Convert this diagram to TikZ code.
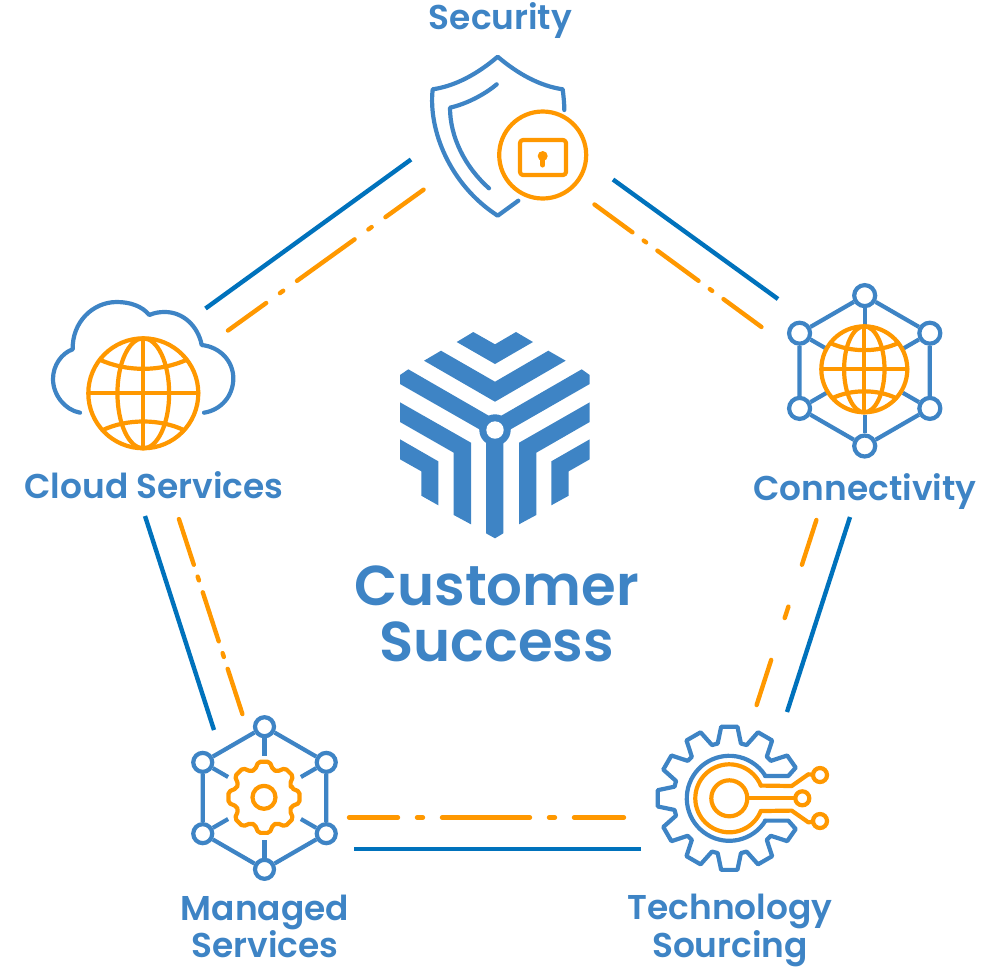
\documentclass[tikz,border=0pt]{standalone}
\usepackage{fontspec}
\setmainfont{Poppins SemiBold}
\usepackage{tikz}
\definecolor{iconblue}{HTML}{3E84C5}
\definecolor{linkblue}{HTML}{0072BC}
\definecolor{iconorange}{HTML}{FF9800}
\tikzset{
	iconline/.style={draw=iconblue,line width=4.2pt,line cap=round,line join=round},
	orangeline/.style={draw=iconorange,line width=4.2pt,line cap=round,line join=round},
	bluelink/.style={draw=linkblue,line width=4.4pt},
	orangelink/.style={draw=iconorange,line width=4.4pt,line cap=round},
	hexdot/.style={circle,draw=iconblue,line width=4.2pt,fill=white,inner sep=0pt},
	pindot/.style={circle,draw=iconorange,line width=4.2pt,fill=white,inner sep=0pt,minimum size=14pt},
	iconlabel/.style={text=iconblue,font=\fontsize{34.4}{36}\selectfont,align=center,inner sep=0pt},
	biglabel/.style={text=iconblue,font=\fontsize{56.2}{56}\selectfont,align=center,inner sep=0pt}
}
\newcommand{\globeicon}[3]{
	\begin{scope}[shift={(#1,#2)},x=#3pt,y=-#3pt]
		\draw[orangeline,fill=white] (0,0) circle[radius=1];
		\draw[orangeline] (0,0) circle[x radius=.47,y radius=1];
		\draw[orangeline] (0,-1) -- (0,1) (-1,0) -- (1,0);
		\draw[orangeline] (-.79,-.61) .. controls (-.3,-.39) and (.3,-.39) .. (.79,-.61);
		\draw[orangeline] (-.74,.67) .. controls (-.3,.46) and (.3,.46) .. (.74,.67);
	\end{scope}
}
\newcommand{\hexicon}[6]{
	\begin{scope}[shift={(#2,#3)}]
		\foreach \i/\a in {a/-90,b/-30,c/30,d/90,e/150,f/210}
			\node[hexdot,minimum size=#6pt] (#1\i) at (\a:#4) {};
		\draw[iconline,line cap=butt] (#1a) -- (#1b) -- (#1c) -- (#1d) -- (#1e) -- (#1f) -- (#1a);
		\foreach \i/\a in {a/-90,b/-30,c/30,d/90,e/150,f/210}
			\draw[iconline,line cap=butt] (#1\i) -- (\a:#5);
	\end{scope}
}
\begin{document}
\begin{tikzpicture}[x=1pt,y=-1pt]
	\useasboundingbox (0,0) rectangle (987,970);
	% logo
	\fill[iconblue] (456.7,342) -- (473.3,332) -- (495,344.3) -- (516,332) -- (533,342) -- (495,364) -- cycle;
	\fill[iconblue] (424,360.7) -- (441,350.7) -- (495,381.7) -- (548.3,350.7) -- (565.7,360.7) -- (495,401.7) -- cycle;
	\fill[iconblue] (400,375) -- (408.3,369.3) -- (495,419.3) -- (581.7,369.3) -- (589.7,375) -- (589.7,384) -- (510.7,429.3)
		-- (503.3,441.7) -- (503.3,533.3) -- (495,538.3) -- (486,533.3) -- (486,441.7) -- (479.3,429.3) -- (400,384) -- cycle;
	\fill[iconblue] (400,402.3) -- (471,442.7) -- (471,524.3) -- (453.7,515) -- (453.7,452.7) -- (400,422) -- cycle;
	\fill[iconblue] (400,439.3) -- (438.3,461.3) -- (438.3,505.3) -- (421.3,495.7) -- (421.3,471.3) -- (400,459.3) -- cycle;
	\fill[iconblue] (589.7,402.3) -- (519,442.7) -- (519,524.3) -- (536.3,515) -- (536.3,452.7) -- (589.7,422) -- cycle;
	\fill[iconblue] (589.7,439.3) -- (551.3,461.3) -- (551.3,505.3) -- (568.7,495.7) -- (568.7,471.3) -- (589.7,459.3) -- cycle;
	\fill[iconblue] (495,430) circle[radius=15.7];
	\fill[white] (495,430) circle[radius=8.7];
	\node[biglabel] (centerlabel) at (496.5,613.5) {Customer\\Success};
	% security
	\draw[iconline] (564.3,110) .. controls (564.3,103) and (563.5,96) .. (562.7,89.3)
		.. controls (540,86) and (518,74) .. (497.7,56.7) .. controls (477.4,74) and (455.4,86) .. (432.7,89.3)
		.. controls (428,130) and (450,185) .. (497.7,215.7) -- (518.3,200.7);
	\draw[iconline] (496.7,84.3) .. controls (484,95) and (466,104) .. (450,107.7)
		.. controls (450,137) and (465,167) .. (489,188.3);
	\draw[orangeline] (542.7,155) circle[radius=43.5];
	\draw[orangeline,rounded corners=3pt] (520,140) rectangle (566,175);
	\fill[iconorange] (542.7,156) circle[radius=5];
	\draw[orangeline,line width=5pt] (542.7,156) -- (542.7,165);
	\node[iconlabel] (security) at (500.5,21) {Security};
	% cloud
	\draw[iconline] (80,412.7) .. controls (65,410) and (53,395) .. (53,379) .. controls (53,365) and (62,353) .. (72.7,349.3)
		.. controls (72,322) and (93,302) .. (116.7,302) .. controls (130,302) and (142,306) .. (149.3,315)
		.. controls (155,312.5) and (160,312) .. (165,312) .. controls (183,312) and (198,326) .. (201.7,345)
		.. controls (220,347) and (233.3,361) .. (233.3,378.3) .. controls (233.3,396) and (221,410) .. (204,412.7);
	\globeicon{143.3}{393.3}{55}
	\node[iconlabel] (cloud) at (154,485) {Cloud Services};
	% connectivity
	\hexicon{conn}{864.7}{370.8}{75.2}{44}{21}
	\globeicon{864.3}{369.3}{43}
	\node[iconlabel] (connectivity) at (865,492) {Connectivity};
	% managed
	\hexicon{mgd}{264.5}{798}{71.3}{42}{19}
	\begin{scope}[shift={(264,797.3)}]
		\draw[orangeline,rounded corners=2pt] (-18:29) foreach \a in {0,45,...,315} { -- (\a-18:29) -- (\a-9:36) -- (\a+9:36) -- (\a+18:29) } -- cycle;
		\draw[orangeline] (0,0) circle[radius=11.5];
	\end{scope}
	\node[iconlabel] (managed) at (265,926.5) {Managed\\Services};
	% sourcing
	\begin{scope}[shift={(729.3,798.3)}]
		\draw[iconline] (35.7,22.3) -- (59,22.3) -- (66.4,30.7) -- (36.5:72) -- (42:56)
			foreach \a in {60,90,...,300} { -- (\a-12:56) -- (\a-6.5:72) -- (\a+6.5:72) -- (\a+12:56) }
			-- (318:56) -- (323.5:72) -- (66.4,-30.7) -- (59,-22.3) -- (35.7,-22.3);
		\draw[iconline] (32:42.5) arc[start angle=32,end angle=328,radius=42.5];
		\draw[orangeline] (0,0) circle[radius=18];
		\draw[orangeline] (22:34) arc[start angle=22,end angle=338,radius=34];
		\node[pindot] (pina) at (90.7,-23.3) {};
		\node[pindot] (pinb) at (73,0) {};
		\node[pindot] (pinc) at (90.7,22.7) {};
		\coordinate (hub) at (18,0);
		\draw[orangeline] (hub) -- (pinb);
		\draw[orangeline] (-22:34) -- (62.4,-12.3) -- (79,-24) -- (pina);
		\draw[orangeline] (22:34) -- (62.4,12.3) -- (79,24) -- (pinc);
	\end{scope}
	\node[iconlabel] (sourcing) at (730,930.5) {Technology\\Sourcing};
	% links
	\coordinate (bluea) at (205.5,308.5);
	\coordinate (blueb) at (411,159.5);
	\coordinate (bluec) at (613,179.5);
	\coordinate (blued) at (778,299);
	\coordinate (bluee) at (850,517);
	\coordinate (bluef) at (787,712);
	\coordinate (blueg) at (641,849);
	\coordinate (blueh) at (354,849);
	\coordinate (bluei) at (214,730);
	\coordinate (bluej) at (145,516);
	\coordinate (orangea) at (228,330.5);
	\coordinate (orangeb) at (424.5,189);
	\coordinate (orangec) at (594.5,204.5);
	\coordinate (oranged) at (761.5,327);
	\coordinate (orangee) at (816.4,520);
	\coordinate (orangef) at (756.6,705);
	\coordinate (orangeg) at (624,817.5);
	\coordinate (orangeh) at (349,817.5);
	\coordinate (orangei) at (242.4,714);
	\coordinate (orangej) at (178.6,518);
	\draw[bluelink] (bluea) -- (blueb);
	\draw[bluelink] (bluec) -- (blued);
	\draw[bluelink] (bluee) -- (bluef);
	\draw[bluelink] (blueg) -- (blueh);
	\draw[bluelink] (bluei) -- (bluej);
	\draw[orangelink,dash pattern=on 47pt off 17pt on 4pt off 17pt on 71pt off 17pt on 4pt off 17pt on 47pt] (orangea) -- (orangeb);
	\draw[orangelink,dash pattern=on 47pt off 14pt on 3pt off 14pt on 51pt off 14pt on 3pt off 14pt on 47pt] (orangec) -- (oranged);
	\draw[orangelink,dash pattern=on 47pt off 44pt on 12pt off 44pt on 48pt] (orangee) -- (orangef);
	\draw[orangelink,dash pattern=on 50pt off 19pt on 6pt off 19pt on 88pt off 19pt on 6pt off 19pt on 50pt] (orangeg) -- (orangeh);
	\draw[orangelink,dash pattern=on 47.5pt off 12.5pt on 4pt off 12.5pt on 51.5pt off 12.5pt on 4pt off 12.5pt on 48pt] (orangei) -- (orangej);
\end{tikzpicture}
\end{document}
